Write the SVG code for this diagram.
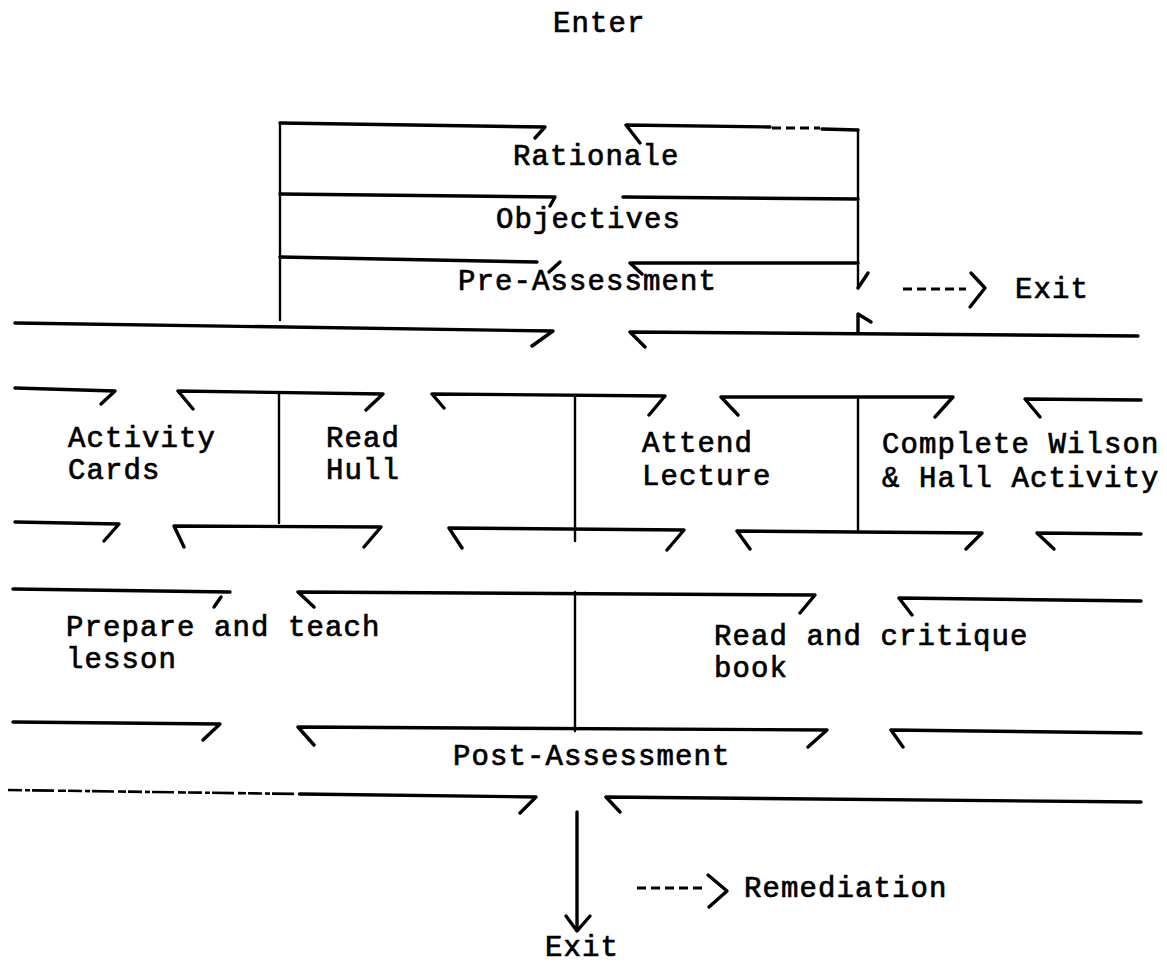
<svg xmlns="http://www.w3.org/2000/svg" width="1167" height="963" viewBox="0 0 1167 963">
<style>
.t{font-family:"Liberation Mono","Courier New",monospace;font-size:29px;letter-spacing:1.1px;fill:#000;stroke:#000;stroke-width:0.7px}
.l{fill:none;stroke:#000;stroke-width:3.4;stroke-linecap:round;stroke-linejoin:round}
.v{fill:none;stroke:#000;stroke-width:2.4;stroke-linecap:round}
.d{fill:none;stroke:#000;stroke-width:3;stroke-dasharray:9 5}
.n{fill:none;stroke:#000;stroke-width:2.6;stroke-dasharray:14 3 5 2 22 4 8 2}
</style>
<rect width="1167" height="963" fill="#fff"/>
<g id="enter"><text class="t" x="553" y="32">Enter</text></g>
<g id="rationale"><text class="t" x="513" y="165">Rationale</text></g>
<g id="objectives"><text class="t" x="496" y="228">Objectives</text></g>
<g id="pre-assessment"><text class="t" x="458" y="290">Pre-Assessment</text></g>
<g id="exit-top"><text class="t" x="1015" y="298">Exit</text></g>
<g id="activity-cards"><text class="t" x="68" y="447">Activity</text><text class="t" x="68" y="479">Cards</text></g>
<g id="read-hull"><text class="t" x="326" y="447">Read</text><text class="t" x="326" y="479">Hull</text></g>
<g id="attend-lecture"><text class="t" x="642" y="452">Attend</text><text class="t" x="642" y="485">Lecture</text></g>
<g id="complete-wilson"><text class="t" x="882" y="453">Complete Wilson</text><text class="t" x="882" y="487">&amp; Hall Activity</text></g>
<g id="prepare-lesson"><text class="t" x="66" y="636">Prepare and teach</text><text class="t" x="66" y="668">lesson</text></g>
<g id="read-critique"><text class="t" x="714" y="645">Read and critique</text><text class="t" x="714" y="677">book</text></g>
<g id="post-assessment"><text class="t" x="453" y="765">Post-Assessment</text></g>
<g id="remediation"><text class="t" x="744" y="897">Remediation</text></g>
<g id="exit-bottom"><text class="t" x="545" y="956">Exit</text></g>
<g id="connectors">
<path class="v" d="M280,123 V320"/>
<path class="l" d="M280,123 L545,127 L535,138"/>
<path class="l" d="M640,143 L626,125 L770,127"/>
<path class="d" d="M772,128 H820"/>
<path class="l" d="M822,129 L858,130"/>
<path class="v" d="M858,130 V288"/>
<path class="l" d="M868,273 L858,288"/>
<path class="l" d="M280,194 L555,197 L550,206"/>
<path class="l" d="M623,197 L858,199"/>
<path class="l" d="M280,257 L537,262"/>
<path class="l" d="M560,262 L549,272"/>
<path class="l" d="M642,274 L630,263 L858,263"/>
<path class="d" d="M903,289 H966"/>
<path class="l" d="M971,273 L985,288 L970,307"/>
<path class="l" d="M15,323 L553,331 L532,346"/>
<path class="l" d="M645,347 L630,332 L1138,336"/>
<path class="l" d="M858,333 V314 L871,322"/>
<path class="l" d="M15,388 L115,391 L101,404"/>
<path class="l" d="M193,409 L178,391 L383,394 L366,410"/>
<path class="l" d="M444,408 L432,394 L665,396 L649,415"/>
<path class="l" d="M738,415 L721,397 L953,397 L935,417"/>
<path class="l" d="M1040,417 L1025,399 L1141,400"/>
<path class="v" d="M279,393 V523"/>
<path class="v" d="M575,395 V541"/>
<path class="v" d="M858,397 V530"/>
<path class="l" d="M15,522 L119,524 L104,541"/>
<path class="l" d="M184,547 L174,526 L381,527 L364,547"/>
<path class="l" d="M462,548 L449,528 L684,530 L667,550"/>
<path class="l" d="M750,549 L737,531 L982,533 L966,549"/>
<path class="l" d="M1054,549 L1037,533 L1141,534"/>
<path class="l" d="M13,589 L230,592"/>
<path class="l" d="M221,597 L214,607"/>
<path class="l" d="M314,607 L298,592 L815,595 L800,613"/>
<path class="l" d="M912,615 L899,598 L1141,601"/>
<path class="v" d="M575,592 V731"/>
<path class="l" d="M13,722 L220,724 L203,740"/>
<path class="l" d="M314,745 L298,727 L827,730 L808,747"/>
<path class="l" d="M903,747 L891,730 L1141,733"/>
<path class="n" d="M8,790 L300,794"/>
<path class="l" d="M300,794 L536,797 L520,813"/>
<path class="l" d="M620,812 L606,797 L1141,802"/>
<path class="l" d="M577,812 V930"/>
<path class="l" d="M566,916 L577,931 L590,916"/>
<path class="d" d="M637,888 H704"/>
<path class="l" d="M708,875 L727,891 L709,907"/>
</g>
</svg>
